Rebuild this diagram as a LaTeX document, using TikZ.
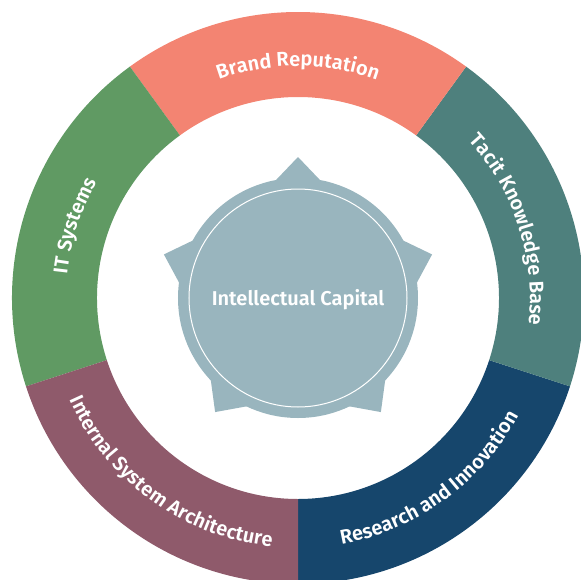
\documentclass[tikz,border=0pt]{standalone}
\usepackage{fontspec}
\setmainfont{Fira Sans}[BoldFont={Fira Sans SemiBold}]
\usetikzlibrary{decorations.text}

\definecolor{brandcol}{RGB}{243,132,114}
\definecolor{tacitcol}{RGB}{78,128,125}
\definecolor{rescol}{RGB}{22,70,108}
\definecolor{intcol}{RGB}{143,90,107}
\definecolor{itcol}{RGB}{96,154,99}
\definecolor{capcol}{RGB}{153,181,190}

\newcommand{\lblfont}{\bfseries\fontsize{20}{23}\selectfont}

\begin{document}
\begin{tikzpicture}[x=1pt,y=1pt]
		\tikzstyle{ringlabel}=[decorate, decoration={text along path, text align=center, text color=white}]
		\useasboundingbox (-298,-281) rectangle (283,298);
		\clip (-298,-281) rectangle (283,298);
		\foreach \a/\col in {270/rescol, 342/tacitcol, 54/brandcol, 126/itcol, 198/intcol}
			\fill [\col] (\a:201) -- (\a:286) arc [start angle=\a, end angle=\a+72, radius=286]
				-- (\a+72:201) arc [start angle=\a+72, end angle=\a, radius=201] -- cycle;
		\path [ringlabel, decoration={text={|\lblfont|Brand Reputation}}] (126:232) arc [start angle=126, end angle=54, radius=232];
		\path [ringlabel, decoration={text={|\lblfont|Tacit Knowledge Base}}] (54:232) arc [start angle=54, end angle=-18, radius=232];
		\path [ringlabel, decoration={text={|\lblfont|IT Systems}}] (198:232) arc [start angle=198, end angle=126, radius=232];
		\path [ringlabel, decoration={text={|\lblfont|Research and Innovation}}] (270:250) arc [start angle=270, end angle=342, radius=250];
		\path [ringlabel, decoration={text={|\lblfont|Internal System Architecture}}] (198:250) arc [start angle=198, end angle=270, radius=250];
		\fill [capcol] (90:141) \foreach \k in {0,...,4} { -- (126+72*\k:99) -- (162+72*\k:141) } -- cycle;
		\fill [capcol] (0,0) circle (120);
		\draw [white, line width=1pt] (0,0) circle (109);
		\node [text=white, font=\lblfont] (cap) at (0,-2) {Intellectual Capital};
\end{tikzpicture}
\end{document}
